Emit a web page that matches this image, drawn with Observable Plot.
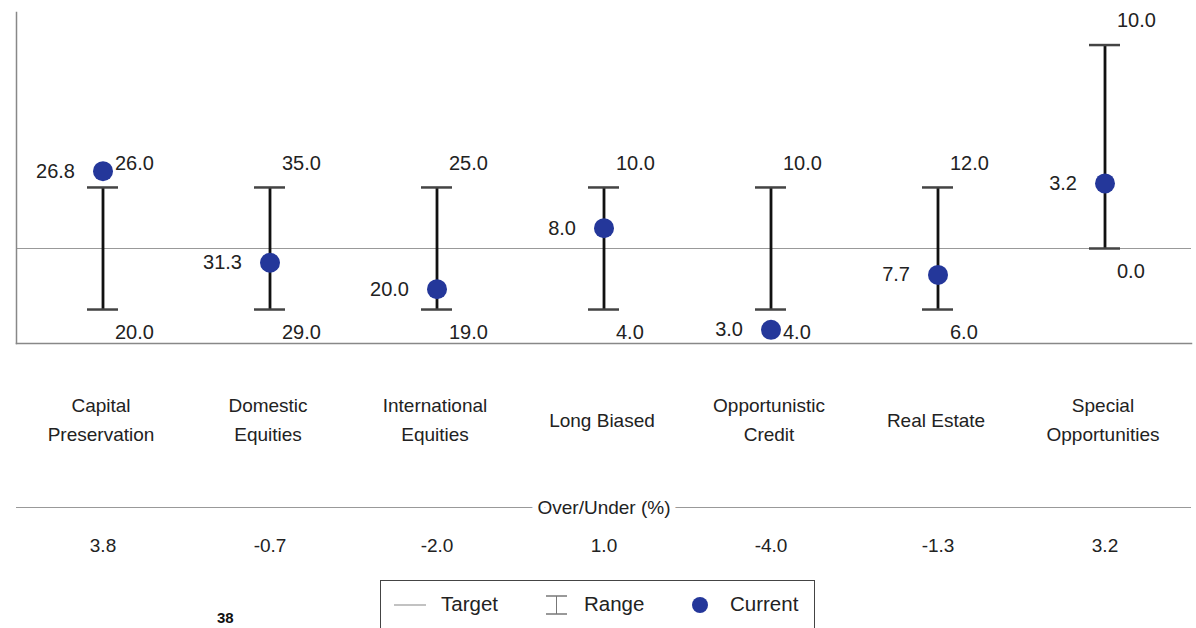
<!DOCTYPE html>
<html>
<head>
<meta charset="utf-8">
<script src="https://cdn.jsdelivr.net/npm/d3@7"></script>
<script src="https://cdn.jsdelivr.net/npm/@observablehq/plot@0.6"></script>
<style>
  html, body { margin: 0; padding: 0; background: #fff; overflow: hidden; width: 1196px; height: 628px; }
  body { font-family: "Liberation Sans", Arial, sans-serif; position: relative; }
  #chart svg { display: block; }
  #legend { position: absolute; left: 380px; top: 580px; width: 435px; height: 60px; border: 1.5px solid #444; box-sizing: border-box; font-size: 20.5px; color: #222; }
  #legend .item { position: absolute; top: 11px; line-height: 24px; }
  #page { position: absolute; left: 217px; top: 609px; font-weight: bold; font-size: 15px; color: #111; }
</style>
</head>
<body>
<div id="chart"></div>
<div id="legend">
  <svg width="434" height="48" style="position:absolute;left:0;top:0">
    <line x1="13" x2="45" y1="24" y2="24" stroke="#999" stroke-width="1.2"/>
    <line x1="165" x2="186" y1="15" y2="15" stroke="#777" stroke-width="1.5"/>
    <line x1="165" x2="186" y1="33" y2="33" stroke="#777" stroke-width="1.5"/>
    <line x1="175.5" x2="175.5" y1="15" y2="33" stroke="#777" stroke-width="1"/>
    <circle cx="319" cy="24" r="8" fill="#24379a"/>
  </svg>
  <span class="item" style="left:60px">Target</span>
  <span class="item" style="left:203px">Range</span>
  <span class="item" style="left:349px">Current</span>
</div>
<div id="page">38</div>
<script>
const categories = ["Capital\nPreservation", "Domestic\nEquities", "International\nEquities", "Long Biased", "Opportunistic\nCredit", "Real Estate", "Special\nOpportunities"];
const rangeMin = [20.0, 29.0, 19.0, 4.0, 4.0, 6.0, 0.0];
const rangeMax = [26.0, 35.0, 25.0, 10.0, 10.0, 12.0, 10.0];
const target   = [23.0, 32.0, 22.0, 7.0, 7.0, 9.0, 0.0];
const current  = [26.8, 31.3, 20.0, 8.0, 3.0, 7.7, 3.2];
const overUnder = [3.8, -0.7, -2.0, 1.0, -4.0, -1.3, 3.2];

const data = categories.map((c, i) => ({
  cat: c, min: rangeMin[i], max: rangeMax[i], target: target[i], current: current[i], ou: overUnder[i],
  dMin: rangeMin[i] - target[i], dMax: rangeMax[i] - target[i], dCur: current[i] - target[i]
}));

const yDomain = [-4.67, 11.6];
const fmt = v => v.toFixed(1);
const font = "Liberation Sans, Arial, sans-serif";

const chart = Plot.plot({
  width: 1196,
  height: 575,
  marginLeft: 16,
  marginRight: 5,
  marginTop: 12,
  marginBottom: 232,
  style: { fontFamily: font, fontSize: "20px", color: "#222", background: "#fff" },
  x: { domain: categories, padding: 0, axis: null },
  y: { domain: yDomain, axis: null },
  marks: [
    Plot.ruleY([0], { stroke: "#999", strokeWidth: 1.2 }),
    Plot.frame({ anchor: "left", stroke: "#888", strokeWidth: 1.5 }),
    Plot.frame({ anchor: "bottom", stroke: "#888", strokeWidth: 1.5 }),
    Plot.ruleX(data, { x: "cat", y1: "dMin", y2: "dMax", stroke: "#111", strokeWidth: 2.8 }),
    Plot.tickY(data, { x: "cat", y: "dMin", stroke: "#444", strokeWidth: 2.5, insetLeft: 68, insetRight: 68 }),
    Plot.tickY(data, { x: "cat", y: "dMax", stroke: "#444", strokeWidth: 2.5, insetLeft: 68, insetRight: 68 }),
    Plot.dot(data, { x: "cat", y: "dCur", r: 10, fill: "#24379a" }),
    Plot.text(data, { x: "cat", y: "dCur", text: d => fmt(d.current), textAnchor: "end", dx: -28, fill: "#222" }),
    Plot.text(data, { x: "cat", y: "dMax", text: d => fmt(d.max), textAnchor: "start", dx: 12, dy: -24, fill: "#222" }),
    Plot.text(data, { x: "cat", y: "dMin", text: d => fmt(d.min), textAnchor: "start", dx: 12, dy: 23, fill: "#222" }),
    // category labels
    Plot.text(data, { x: "cat", y: () => yDomain[0], text: "cat", lineAnchor: "middle", lineHeight: 1.52, dy: 74, dx: -2, fontSize: 19, fill: "#222" }),
    // Over/Under header
    Plot.ruleY([yDomain[0]], { dy: 164, stroke: "#999", strokeWidth: 1.2 }),
    Plot.text(["Over/Under (%)"], { frameAnchor: "bottom", dy: 164, lineAnchor: "middle", fontSize: 19, fill: "#222", stroke: "#fff", strokeWidth: 12, paintOrder: "stroke" }),
    Plot.text(data, { x: "cat", y: () => yDomain[0], text: d => fmt(d.ou), lineAnchor: "middle", dy: 202, fontSize: 19, fill: "#222" })
  ]
});
document.getElementById("chart").appendChild(chart);
</script>
</body>
</html>
